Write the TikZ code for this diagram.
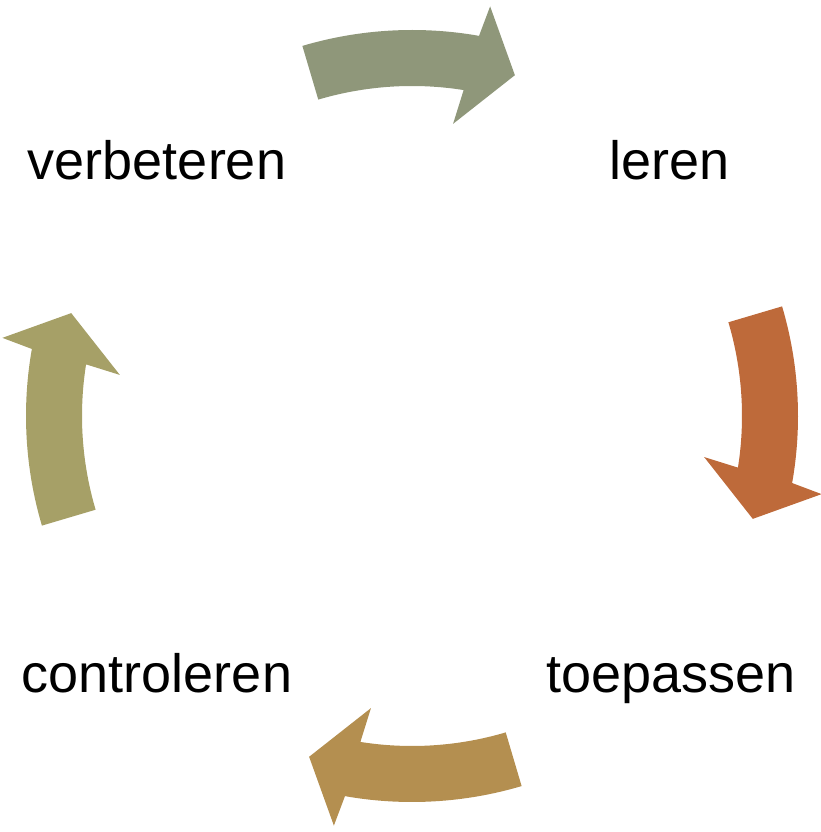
\documentclass[tikz,border=0pt]{standalone}
\usepackage{fontspec}
\setmainfont{Liberation Sans}
\usepackage{tikz}

\definecolor{vertgris}{RGB}{143,151,122}
\definecolor{rouille}{RGB}{190,106,58}
\definecolor{ocre}{RGB}{180,143,80}
\definecolor{olive}{RGB}{166,160,103}

\begin{document}
\begin{tikzpicture}[x=1pt, y=1pt, every node/.style={font=\fontsize{54}{60}\selectfont, anchor=base}]
                \useasboundingbox (0,0) rectangle (820,832);
                \coordinate (O) at (412,416);

                % Les flèches
                \foreach \a/\c in {90/vertgris, 0/rouille, -90/ocre, 180/olive} {
                    \fill[\c, shift={(O)}] (\a+16.5:386) arc[start angle=\a+16.5, end angle=\a-10, radius=386]
                        -- (\a-10.8:417) -- (\a-16.8:356) -- (\a-8:295) -- (\a-9:330)
                        arc[start angle=\a-9, end angle=\a+16.5, radius=330] -- cycle;
                }

                % Les étapes
                \node (V) at (157,652) {verbeteren};
                \node (L) at (670,652) {leren};
                \node (T) at (671,139) {toepassen};
                \node (C) at (157,139) {controleren};
            \end{tikzpicture}
\end{document}
